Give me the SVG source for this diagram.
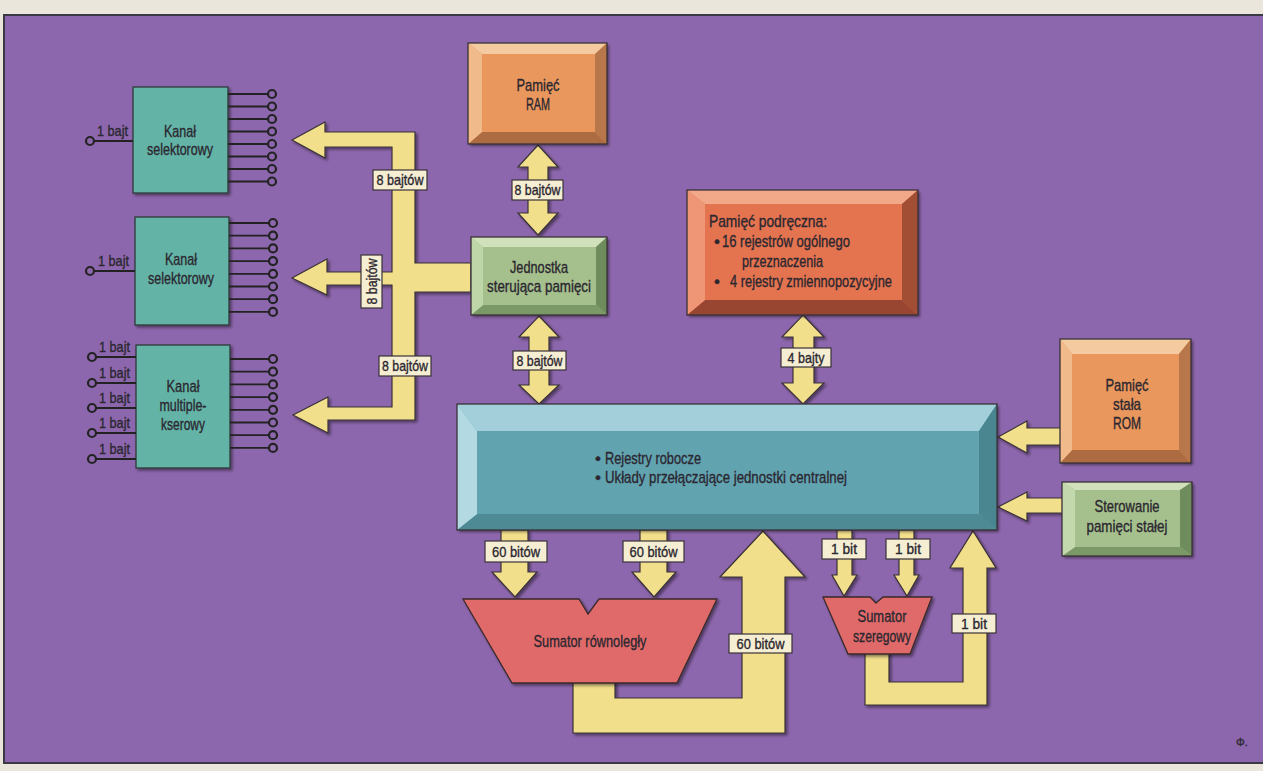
<svg xmlns="http://www.w3.org/2000/svg" width="1263" height="771" viewBox="0 0 1263 771">
<defs>
<filter id="sh" x="-10%" y="-10%" width="130%" height="130%">
<feGaussianBlur in="SourceAlpha" stdDeviation="1.5"/>
<feOffset dx="2" dy="2" result="b"/>
<feComponentTransfer><feFuncA type="linear" slope="0.45"/></feComponentTransfer>
<feMerge><feMergeNode/><feMergeNode in="SourceGraphic"/></feMerge>
</filter>
<style>
.t{font-family:"Liberation Sans",Arial,sans-serif;fill:#2b2730;stroke:#2b2730;stroke-width:0.35;}
.n{font-size:17px;text-anchor:middle;}
.l{font-size:15px;text-anchor:middle;}
.s{font-size:15px;}
.b{font-size:17px;}
.arr{fill:#f2df8c;stroke:#3a3238;stroke-width:1.2;stroke-linejoin:miter;}
.lab{fill:#f6eed3;stroke:#3a3238;stroke-width:1.2;}
.ch{fill:#64b4a6;stroke:#2e3a3a;stroke-width:1.3;}
.pin{stroke:#222;stroke-width:1.8;fill:none;}
.pc{fill:#8d67ad;stroke:#232323;stroke-width:2.2;}
.add{fill:#e06b6b;stroke:#3a2a2a;stroke-width:1.3;}
.ol{fill:none;stroke:#3a3238;stroke-width:1.3;}
</style>
</defs>
<rect x="0" y="0" width="1263" height="771" fill="#ebe6dc"/>
<rect x="4" y="15" width="1270" height="748" fill="#8d67ad" stroke="#3a3a44" stroke-width="2"/>

<g id="connectors">
<path class="arr" filter="url(#sh)" d="M292 140 L325 122 L325 132 L415 132 L415 263 L471 263 L471 292 L415 292 L415 420 L328 420 L328 433 L293 415 L328 397 L328 407 L392 407 L392 285 L327 285 L327 295 L292 278 L327 259 L327 272 L392 272 L392 147 L325 147 L325 158 Z"/>
<path class="arr" filter="url(#sh)" d="M538 145 L558 167 L548 167 L548 213 L558 213 L538 235 L518 213 L528 213 L528 167 L518 167 Z"/>
<path class="arr" filter="url(#sh)" d="M539 316 L559 337 L549 337 L549 385 L559 385 L539 404 L519 385 L529 385 L529 337 L519 337 Z"/>
<path class="arr" filter="url(#sh)" d="M803 315 L824 337 L814 337 L814 383 L824 383 L803 404 L782 383 L793 383 L793 337 L782 337 Z"/>
<path class="arr" filter="url(#sh)" d="M1061 428 L1027 428 L1027 421 L998 437 L1027 453 L1027 445 L1061 445 Z"/>
<path class="arr" filter="url(#sh)" d="M1063 498 L1027 498 L1027 492 L998 507 L1027 521 L1027 513 L1063 513 Z"/>
<path class="arr" filter="url(#sh)" d="M501 530 L528 530 L528 572 L537 572 L515 597 L492 572 L501 572 Z"/>
<path class="arr" filter="url(#sh)" d="M640 530 L667 530 L667 572 L676 572 L654 597 L632 572 L640 572 Z"/>
<path class="arr" filter="url(#sh)" d="M837 530 L852 530 L852 575 L857 575 L844 596 L832 575 L837 575 Z"/>
<path class="arr" filter="url(#sh)" d="M899 530 L914 530 L914 575 L919 575 L907 596 L894 575 L899 575 Z"/>
<path class="arr" filter="url(#sh)" d="M573 680 L573 733 L785 733 L785 577 L805 577 L763 531 L720 577 L742 577 L742 698 L615 698 L615 680 Z"/>
<path class="arr" filter="url(#sh)" d="M865 650 L865 705 L987 705 L987 568 L996 568 L973 531 L950 568 L963 568 L963 682 L889 682 L889 650 Z"/>

<rect class="lab" x="373" y="170" width="54" height="20"/>
<text class="t l" x="400" y="185" textLength="47" lengthAdjust="spacingAndGlyphs">8 bajtów</text>
<rect class="lab" x="512" y="180" width="51" height="20"/>
<text class="t l" x="537.5" y="195" textLength="46" lengthAdjust="spacingAndGlyphs">8 bajtów</text>
<rect class="lab" x="361" y="255" width="21" height="53"/>
<text class="t l" transform="translate(377 281.5) rotate(-90)" x="0" y="0" textLength="46" lengthAdjust="spacingAndGlyphs">8 bajtów</text>
<rect class="lab" x="379" y="356" width="52" height="20"/>
<text class="t l" x="405" y="371" textLength="46" lengthAdjust="spacingAndGlyphs">8 bajtów</text>
<rect class="lab" x="513" y="351" width="53" height="19"/>
<text class="t l" x="539.5" y="366" textLength="46" lengthAdjust="spacingAndGlyphs">8 bajtów</text>
<rect class="lab" x="781" y="348" width="50" height="19"/>
<text class="t l" x="806" y="363" textLength="37" lengthAdjust="spacingAndGlyphs">4 bajty</text>
<rect class="lab" x="485" y="541" width="62" height="21"/>
<text class="t l" x="516" y="557" textLength="48" lengthAdjust="spacingAndGlyphs">60 bitów</text>
<rect class="lab" x="623" y="541" width="61" height="21"/>
<text class="t l" x="653.5" y="557" textLength="48" lengthAdjust="spacingAndGlyphs">60 bitów</text>
<rect class="lab" x="729" y="634" width="63" height="19"/>
<text class="t l" x="760.5" y="649" textLength="48" lengthAdjust="spacingAndGlyphs">60 bitów</text>
<rect class="lab" x="822" y="539" width="44" height="20"/>
<text class="t l" x="844" y="554" textLength="26" lengthAdjust="spacingAndGlyphs">1 bit</text>
<rect class="lab" x="886" y="539" width="44" height="20"/>
<text class="t l" x="908" y="554" textLength="26" lengthAdjust="spacingAndGlyphs">1 bit</text>
<rect class="lab" x="952" y="614" width="44" height="19"/>
<text class="t l" x="974" y="629" textLength="26" lengthAdjust="spacingAndGlyphs">1 bit</text>
</g>

<g id="kanal1">
<rect class="ch" filter="url(#sh)" x="133" y="87" width="95" height="106"/>
<text class="t n" x="180" y="137" textLength="32" lengthAdjust="spacingAndGlyphs">Kanał</text>
<text class="t n" x="180" y="155" textLength="66" lengthAdjust="spacingAndGlyphs">selektorowy</text>
<path class="pin" d="M228 94H268M228 106.5H268M228 119H268M228 131.5H268M228 144H268M228 156.5H268M228 169H268M228 181.5H268M94 141H133"/>
<circle class="pc" cx="272" cy="94" r="4"/><circle class="pc" cx="272" cy="106.5" r="4"/><circle class="pc" cx="272" cy="119" r="4"/><circle class="pc" cx="272" cy="131.5" r="4"/><circle class="pc" cx="272" cy="144" r="4"/><circle class="pc" cx="272" cy="156.5" r="4"/><circle class="pc" cx="272" cy="169" r="4"/><circle class="pc" cx="272" cy="181.5" r="4"/>
<circle class="pc" cx="90" cy="141" r="4"/>
<text class="t s" x="97" y="136" textLength="31" lengthAdjust="spacingAndGlyphs">1 bajt</text>
</g>

<g id="kanal2">
<rect class="ch" filter="url(#sh)" x="135" y="217" width="94" height="108"/>
<text class="t n" x="181" y="265" textLength="32" lengthAdjust="spacingAndGlyphs">Kanał</text>
<text class="t n" x="181" y="284" textLength="66" lengthAdjust="spacingAndGlyphs">selektorowy</text>
<path class="pin" d="M229 223H269M229 235.7H269M229 248.4H269M229 261.1H269M229 273.8H269M229 286.5H269M229 299.2H269M229 311.9H269M94 271H135"/>
<circle class="pc" cx="273" cy="223" r="4"/><circle class="pc" cx="273" cy="235.7" r="4"/><circle class="pc" cx="273" cy="248.4" r="4"/><circle class="pc" cx="273" cy="261.1" r="4"/><circle class="pc" cx="273" cy="273.8" r="4"/><circle class="pc" cx="273" cy="286.5" r="4"/><circle class="pc" cx="273" cy="299.2" r="4"/><circle class="pc" cx="273" cy="311.9" r="4"/>
<circle class="pc" cx="90" cy="271" r="4"/>
<text class="t s" x="98" y="266" textLength="31" lengthAdjust="spacingAndGlyphs">1 bajt</text>
</g>

<g id="kanal3">
<rect class="ch" filter="url(#sh)" x="136" y="345" width="94" height="123"/>
<text class="t n" x="183" y="392" textLength="33" lengthAdjust="spacingAndGlyphs">Kanał</text>
<text class="t n" x="183" y="411" textLength="47" lengthAdjust="spacingAndGlyphs">multiple-</text>
<text class="t n" x="183" y="430" textLength="44" lengthAdjust="spacingAndGlyphs">kserowy</text>
<path class="pin" d="M230 359H269M230 371.7H269M230 384.4H269M230 397.1H269M230 409.8H269M230 422.5H269M230 435.2H269M230 447.9H269M96 357H136M96 383H136M96 408H136M96 433H136M96 459H136"/>
<circle class="pc" cx="273" cy="359" r="4"/><circle class="pc" cx="273" cy="371.7" r="4"/><circle class="pc" cx="273" cy="384.4" r="4"/><circle class="pc" cx="273" cy="397.1" r="4"/><circle class="pc" cx="273" cy="409.8" r="4"/><circle class="pc" cx="273" cy="422.5" r="4"/><circle class="pc" cx="273" cy="435.2" r="4"/><circle class="pc" cx="273" cy="447.9" r="4"/>
<circle class="pc" cx="92" cy="357" r="4"/><circle class="pc" cx="92" cy="383" r="4"/><circle class="pc" cx="92" cy="408" r="4"/><circle class="pc" cx="92" cy="433" r="4"/><circle class="pc" cx="92" cy="459" r="4"/>
<text class="t s" x="99" y="352" textLength="31" lengthAdjust="spacingAndGlyphs">1 bajt</text>
<text class="t s" x="99" y="378" textLength="31" lengthAdjust="spacingAndGlyphs">1 bajt</text>
<text class="t s" x="99" y="403" textLength="31" lengthAdjust="spacingAndGlyphs">1 bajt</text>
<text class="t s" x="99" y="428" textLength="31" lengthAdjust="spacingAndGlyphs">1 bajt</text>
<text class="t s" x="99" y="454" textLength="31" lengthAdjust="spacingAndGlyphs">1 bajt</text>
</g>

<g id="ram">
<rect x="468" y="43" width="139" height="101" fill="#e9975c" filter="url(#sh)"/>
<polygon points="468,43 607,43 595,54 482,54" fill="#f4cba0"/>
<polygon points="607,43 607,144 595,132 595,54" fill="#b8774b"/>
<polygon points="468,144 607,144 595,132 482,132" fill="#ad6b41"/>
<polygon points="468,43 482,54 482,132 468,144" fill="#f1ba8a"/>
<rect class="ol" x="468" y="43" width="139" height="101"/>
<text class="t n" x="538" y="91" textLength="43" lengthAdjust="spacingAndGlyphs">Pamięć</text>
<text class="t n" x="538" y="110" textLength="24" lengthAdjust="spacingAndGlyphs">RAM</text>
</g>

<g id="mcu">
<rect x="471" y="237" width="136" height="78" fill="#a5c08c" filter="url(#sh)"/>
<polygon points="471,237 607,237 596,247 483,247" fill="#d0e1bc"/>
<polygon points="607,237 607,315 596,305 596,247" fill="#6f8d5c"/>
<polygon points="471,315 607,315 596,305 483,305" fill="#7b9967"/>
<polygon points="471,237 483,247 483,305 471,315" fill="#bfd6a8"/>
<rect class="ol" x="471" y="237" width="136" height="78"/>
<text class="t n" x="539" y="273" textLength="58" lengthAdjust="spacingAndGlyphs">Jednostka</text>
<text class="t n" x="539" y="292" textLength="104" lengthAdjust="spacingAndGlyphs">sterująca pamięci</text>
</g>

<g id="cache">
<rect x="687" y="190" width="231" height="125" fill="#e4734f" filter="url(#sh)"/>
<polygon points="687,190 918,190 902,204 705,204" fill="#f2a98a"/>
<polygon points="918,190 918,315 902,300 902,204" fill="#a24e34"/>
<polygon points="687,315 918,315 902,300 705,300" fill="#984631"/>
<polygon points="687,190 705,204 705,300 687,315" fill="#ee9676"/>
<rect class="ol" x="687" y="190" width="231" height="125"/>
<text class="t b" x="709" y="227" textLength="118" lengthAdjust="spacingAndGlyphs">Pamięć podręczna:</text>
<text class="t b" x="714" y="247">•</text>
<text class="t b" x="722" y="247" textLength="128" lengthAdjust="spacingAndGlyphs">16 rejestrów ogólnego</text>
<text class="t b" x="742" y="267" textLength="81" lengthAdjust="spacingAndGlyphs">przeznaczenia</text>
<text class="t b" x="714" y="287">•</text>
<text class="t b" x="730" y="287" textLength="162" lengthAdjust="spacingAndGlyphs">4 rejestry zmiennopozycyjne</text>
</g>

<g id="rejestry">
<rect x="457" y="404" width="540" height="126" fill="#62a3b0" filter="url(#sh)"/>
<polygon points="457,404 997,404 979,431 477,431" fill="#a2cfd9"/>
<polygon points="997,404 997,530 979,514 979,431" fill="#4a8690"/>
<polygon points="457,530 997,530 979,514 477,514" fill="#4e8a93"/>
<polygon points="457,404 477,431 477,514 457,530" fill="#b3dae2"/>
<rect class="ol" x="457" y="404" width="540" height="126"/>
<text class="t b" x="595" y="464">•</text>
<text class="t b" x="605" y="464" textLength="96" lengthAdjust="spacingAndGlyphs">Rejestry robocze</text>
<text class="t b" x="595" y="483">•</text>
<text class="t b" x="605" y="483" textLength="242" lengthAdjust="spacingAndGlyphs">Układy przełączające jednostki centralnej</text>
</g>

<g id="rom">
<rect x="1060" y="339" width="131" height="124" fill="#e9975c" filter="url(#sh)"/>
<polygon points="1060,339 1191,339 1179,354 1072,354" fill="#f4cba0"/>
<polygon points="1191,339 1191,463 1179,450 1179,354" fill="#b8774b"/>
<polygon points="1060,463 1191,463 1179,450 1072,450" fill="#ad6b41"/>
<polygon points="1060,339 1072,354 1072,450 1060,463" fill="#f1ba8a"/>
<rect class="ol" x="1060" y="339" width="131" height="124"/>
<text class="t n" x="1127" y="391" textLength="43" lengthAdjust="spacingAndGlyphs">Pamięć</text>
<text class="t n" x="1127" y="410" textLength="28" lengthAdjust="spacingAndGlyphs">stała</text>
<text class="t n" x="1127" y="429" textLength="28" lengthAdjust="spacingAndGlyphs">ROM</text>
</g>

<g id="sterowanie">
<rect x="1062" y="482" width="130" height="74" fill="#a5c08c" filter="url(#sh)"/>
<polygon points="1062,482 1192,482 1180,490 1075,490" fill="#d0e1bc"/>
<polygon points="1192,482 1192,556 1180,547 1180,490" fill="#6f8d5c"/>
<polygon points="1062,556 1192,556 1180,547 1075,547" fill="#7b9967"/>
<polygon points="1062,482 1075,490 1075,547 1062,556" fill="#c3d9ad"/>
<rect class="ol" x="1062" y="482" width="130" height="74"/>
<text class="t n" x="1127" y="512" textLength="65" lengthAdjust="spacingAndGlyphs">Sterowanie</text>
<text class="t n" x="1127" y="532" textLength="81" lengthAdjust="spacingAndGlyphs">pamięci stałej</text>
</g>

<g id="sumator-rownolegly">
<polygon class="add" filter="url(#sh)" points="463,599 579,599 588,614 599,599 717,599 677,683 512,683"/>
<text class="t n" x="590" y="647" textLength="113" lengthAdjust="spacingAndGlyphs">Sumator równoległy</text>
</g>

<g id="sumator-szeregowy">
<polygon class="add" filter="url(#sh)" points="823,597 870,597 876,603 883,597 932,597 910,654 848,654"/>
<text class="t n" x="882" y="622" textLength="49" lengthAdjust="spacingAndGlyphs">Sumator</text>
<text class="t n" x="882" y="642" textLength="58" lengthAdjust="spacingAndGlyphs">szeregowy</text>
</g>

<text class="t" font-size="11" x="1236" y="746">Φ.</text>
</svg>
